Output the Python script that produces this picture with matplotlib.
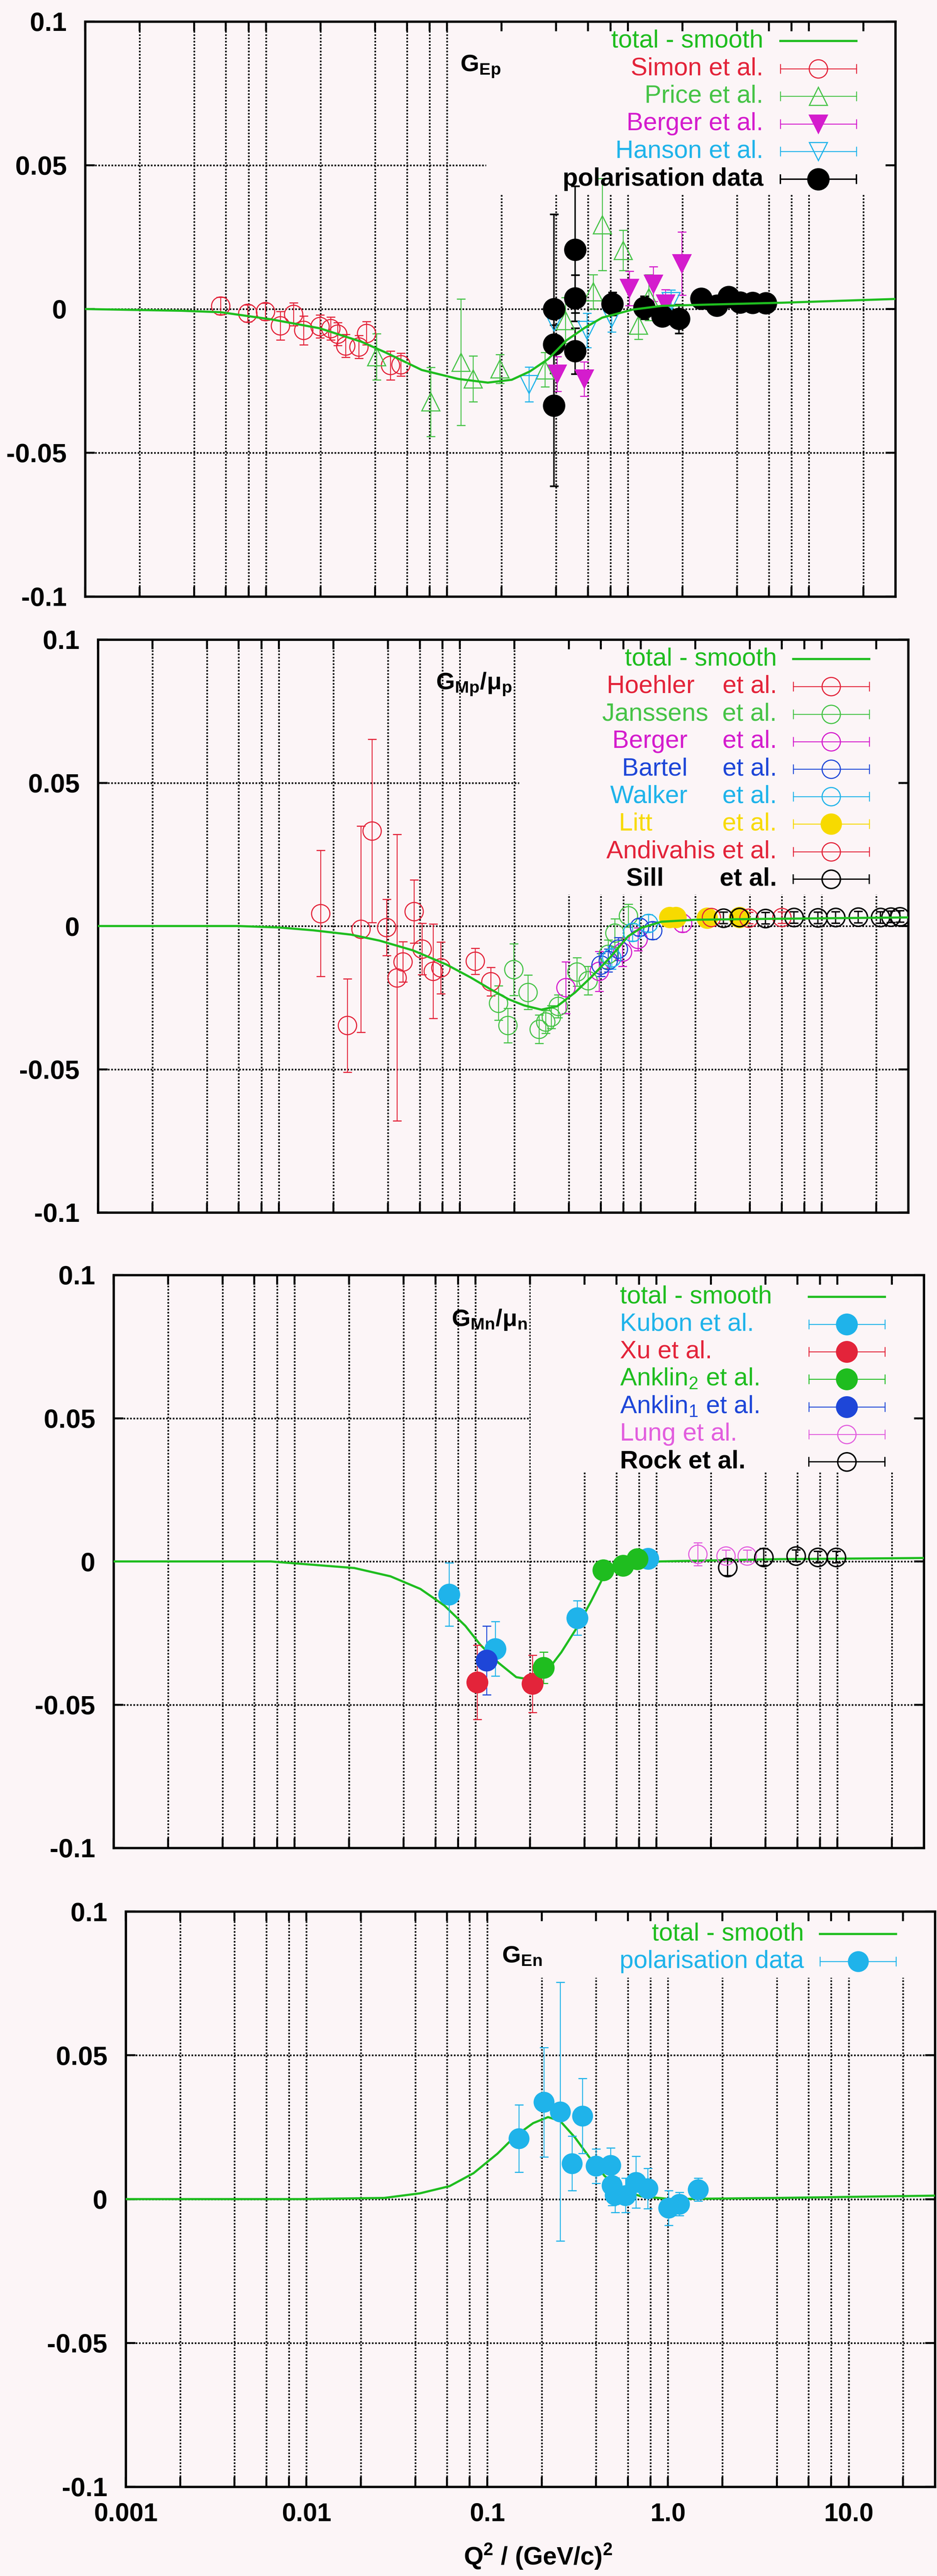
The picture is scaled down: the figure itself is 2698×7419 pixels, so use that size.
import matplotlib
matplotlib.use("Agg")
import matplotlib.pyplot as plt
from matplotlib.ticker import FixedLocator, NullFormatter
from matplotlib.patches import Rectangle

plt.rcParams["font.family"] = ["Liberation Sans", "DejaVu Sans"]
plt.rcParams["mathtext.fontset"] = "custom"
plt.rcParams["mathtext.rm"] = "Liberation Sans"
plt.rcParams["mathtext.it"] = "Liberation Sans:italic"
plt.rcParams["mathtext.bf"] = "Liberation Sans:bold"

# ---------------- data (Q^2 in (GeV/c)^2) ----------------

# panel 1 : G_Ep
ep_fit_q2 = [0.001, 0.0034, 0.0056, 0.0107, 0.0198, 0.0337, 0.0457, 0.0725, 0.115, 0.168,
             0.228, 0.287, 0.362, 0.457, 0.574, 0.72, 1.06, 1.54, 3.0, 7.2, 30]
ep_fit = [0, -0.0006, -0.0011, -0.0036, -0.0067, -0.0114, -0.0151, -0.0212, -0.0243, -0.0256,
          -0.0246, -0.0217, -0.0174, -0.0109, -0.0066, -0.003, -0.0002, 0.0011, 0.0016, 0.0022, 0.0035]

simon_q2 = [0.0056, 0.0079, 0.0099, 0.0120, 0.0142, 0.0161, 0.0198, 0.0227, 0.0248, 0.0275,
            0.0325, 0.0359, 0.0487, 0.0555]
simon = [0.0011, -0.0015, -0.0009, -0.0058, -0.0018, -0.0074, -0.006, -0.0068, -0.0087, -0.0128,
         -0.0132, -0.0084, -0.0196, -0.0193]
simon_err = [0.003, 0.003, 0.003, 0.005, 0.004, 0.005, 0.004, 0.004, 0.004, 0.004,
             0.004, 0.004, 0.005, 0.004]

price_q2 = [0.0408, 0.0813, 0.119, 0.139, 0.196, 0.348, 0.45, 0.641, 0.719, 0.94, 1.14, 1.3]
price = [-0.0166, -0.0323, -0.0185, -0.0243, -0.0208, -0.0211, -0.004, 0.006, 0.0294, 0.0204, -0.0055, 0.004]
price_err = [0.008, 0.012, 0.022, 0.008, 0.005, 0.006, 0.008, 0.006, 0.016, 0.007, 0.005, 0.008]

berger_ep_q2 = [0.405, 0.572, 1.016, 1.38, 1.61, 1.98]
berger_ep = [-0.0226, -0.0243, 0.0072, 0.0087, 0.0018, 0.0158]
berger_ep_err = [0.006, 0.006, 0.006, 0.006, 0.005, 0.011]

hanson_q2 = [0.283, 0.389, 0.594, 0.81, 1.73]
hanson = [-0.0262, -0.0045, -0.0074, -0.003, 0.0027]
hanson_err = [0.006, 0.005, 0.006, 0.005, 0.004]

pol_ep_q2 = [0.39, 0.39, 0.39, 0.51, 0.51, 0.51, 0.82, 1.23, 1.55, 1.91, 2.54, 3.09, 3.59,
             4.17, 4.87, 5.76]
pol_ep = [0.0, -0.0123, -0.0336, 0.0207, 0.0038, -0.0146, 0.0018, 0.0005, -0.0025, -0.0034,
          0.0036, 0.0012, 0.0042, 0.0023, 0.0022, 0.0021]
pol_ep_err = [0.033, 0.01, 0.028, 0.022, 0.008, 0.008, 0.004, 0.004, 0.003, 0.005,
              0.002, 0.002, 0.002, 0.002, 0.002, 0.002]

# panel 2 : G_Mp / mu_p
mp_fit_q2 = [0.001, 0.003, 0.006, 0.01, 0.0155, 0.025, 0.036, 0.055, 0.084, 0.115, 0.148, 0.185,
             0.226, 0.282, 0.345, 0.433, 0.54, 0.68, 0.85, 1.0, 1.3, 2.0, 5.0, 30]
mp_fit = [0, 0, 0, -0.0005, -0.0015, -0.003, -0.0051, -0.0085, -0.0134, -0.018, -0.0221, -0.0255,
          -0.0277, -0.0292, -0.028, -0.0232, -0.0174, -0.0108, -0.0036, -0.0007, 0.0015, 0.0022,
          0.0025, 0.003]

hoehler_q2 = [0.017, 0.0239, 0.0283, 0.0326, 0.0393, 0.045, 0.0484, 0.0557, 0.0617, 0.0711,
              0.0784, 0.1216, 0.148]
hoehler = [0.0044, -0.0347, -0.0011, 0.0332, -0.0005, -0.018, -0.0125, 0.0051, -0.008, -0.0158,
           -0.0146, -0.0123, -0.0194]
hoehler_err = [0.022, 0.0163, 0.036, 0.032, 0.0098, 0.05, 0.007, 0.011, 0.009, 0.0165,
               0.009, 0.0045, 0.005]

janssens_q2 = [0.163, 0.184, 0.198, 0.238, 0.274, 0.298, 0.32, 0.349, 0.443, 0.51, 0.66, 0.718, 0.85]
janssens = [-0.0269, -0.0347, -0.0152, -0.0231, -0.036, -0.0334, -0.0318, -0.028, -0.016, -0.019,
            -0.0098, -0.0024, 0.0036]
janssens_err = [0.006, 0.006, 0.009, 0.006, 0.005, 0.004, 0.004, 0.004, 0.005, 0.005,
                0.005, 0.005, 0.004]

berger_mp_q2 = [0.385, 0.589, 0.79, 0.966, 1.7]
berger_mp = [-0.0215, -0.0158, -0.0091, -0.0046, 0.001]
berger_mp_err = [0.009, 0.007, 0.005, 0.004, 0.003]

bartel_q2 = [0.6, 0.66, 0.75, 0.98, 1.16]
bartel = [-0.0136, -0.012, -0.008, -0.0004, -0.0016]
bartel_err = [0.004, 0.004, 0.004, 0.003, 0.003]

walker_q2 = [0.69, 0.9, 1.1]
walker = [-0.011, -0.0022, 0.001]
walker_err = [0.004, 0.003, 0.003]

litt_q2 = [1.44, 1.56, 2.32, 3.5]
litt = [0.003, 0.003, 0.0028, 0.003]
litt_err = [0.002, 0.002, 0.002, 0.002]

andivahis_q2 = [2.45, 3.95, 6.0]
andivahis = [0.003, 0.0028, 0.003]
andivahis_err = [0.002, 0.002, 0.002]

sill_q2 = [2.86, 3.5, 4.88, 7.0, 9.5, 11.9, 15.9, 21.1, 24.1, 27.0]
sill = [0.0028, 0.003, 0.0027, 0.003, 0.0029, 0.003, 0.0031, 0.003, 0.0032, 0.0033]
sill_err = [0.002, 0.002, 0.002, 0.002, 0.002, 0.002, 0.002, 0.002, 0.002, 0.002]

# panel 3 : G_Mn / mu_n
mn_fit_q2 = [0.001, 0.00738, 0.0214, 0.0339, 0.0496, 0.0673, 0.0879, 0.106, 0.134, 0.168, 0.203,
             0.246, 0.298, 0.36, 0.436, 0.507, 0.614, 0.77, 1.05, 4.8, 30]
mn_fit = [0, 0, -0.0023, -0.0052, -0.0096, -0.0154, -0.0225, -0.029, -0.0354, -0.0404, -0.0413,
          -0.0386, -0.0317, -0.0235, -0.0138, -0.0056, -0.0022, -0.0009, 0.0, 0.0008, 0.0012]

kubon_q2 = [0.0715, 0.1286, 0.365, 0.90]
kubon = [-0.0115, -0.0305, -0.0197, 0.001]
kubon_err = [0.011, 0.0095, 0.006, 0.003]

xu_q2 = [0.102, 0.2065]
xu = [-0.0422, -0.0427]
xu_err = [0.013, 0.01]

anklin2_q2 = [0.238, 0.507, 0.653, 0.784]
anklin2 = [-0.0371, -0.003, -0.0015, 0.0009]
anklin2_err = [0.0055, 0.002, 0.002, 0.002]

anklin1_q2 = [0.115]
anklin1 = [-0.0346]
anklin1_err = [0.012]

lung_q2 = [1.69, 2.42, 3.16]
lung = [0.0025, 0.002, 0.002]
lung_err = [0.004, 0.002, 0.002]

rock_q2 = [2.47, 3.92, 5.9, 7.8, 9.85]
rock = [-0.002, 0.0015, 0.002, 0.0015, 0.0015]
rock_err = [0.003, 0.003, 0.002, 0.002, 0.002]

# panel 4 : G_En
en_fit_q2 = [0.001, 0.00927, 0.0269, 0.0424, 0.0619, 0.084, 0.114, 0.143, 0.1795, 0.217, 0.253,
             0.306, 0.37, 0.447, 0.561, 0.705, 1.03, 4.05, 30]
en_fit = [0, 0, 0.0004, 0.002, 0.0045, 0.009, 0.0158, 0.0219, 0.0264, 0.0285, 0.0272, 0.0214,
          0.0143, 0.008, 0.0032, 0.001, 0.0, 0.0004, 0.0012]

pol_en_q2 = [0.1496, 0.206, 0.253, 0.294, 0.337, 0.399, 0.482, 0.49, 0.51, 0.583, 0.664, 0.773,
             1.007, 1.156, 1.47]
pol_en = [0.0211, 0.0337, 0.0304, 0.0124, 0.0289, 0.0115, 0.0118, 0.0048, 0.0014, 0.0013,
          0.0059, 0.0037, -0.0031, -0.0017, 0.0033]
pol_en_err = [0.0117, 0.019, 0.045, 0.0095, 0.013, 0.006, 0.006, 0.007, 0.006, 0.006,
              0.009, 0.007, 0.006, 0.004, 0.004]

x_major = [0.001, 0.01, 0.1, 1.0, 10.0]
x_major_labels = ["0.001", "0.01", "0.1", "1.0", "10.0"]
y_ticks = [-0.1, -0.05, 0, 0.05, 0.1]
y_tick_labels = ["-0.1", "-0.05", "0", "0.05", "0.1"]

# ---------------- styling ----------------
W, H = 2698, 7419
PAPER = "#fcf5f7"
FIT = "#1fbd1f"
RED = "#e3243a"
LGREEN = "#46c346"
MAGENTA = "#d41ccd"
CYAN = "#1fb3ea"
BLUE = "#1e46d8"
YELLOW = "#f7da00"
PINK = "#e25ede"
BLACK = "black"

OPEN_MS = 38
x_minor = [m * 10.0 ** k for k in range(-3, 2) for m in (2, 4, 6, 8) if m * 10.0 ** k < 30]
DOT = (0, (1.0, 1.0))

fig = plt.figure(figsize=(W / 100, H / 100), dpi=100, facecolor=PAPER)

# panel frames in pixels: left, top, right, bottom
frames = [(245, 62, 2578, 1718), (282, 1842, 2615, 3492),
          (327, 3672, 2660, 5322), (362, 5505, 2692, 7162)]


def make_axes(l, t, r, b, bottom_labels):
    ax = fig.add_axes([l / W, 1 - b / H, (r - l) / W, (b - t) / H])
    ax.set_facecolor(PAPER)
    ax.set_xscale("log")
    ax.set_xlim(0.001, 30)
    ax.set_ylim(-0.1, 0.1)
    ax.xaxis.set_major_locator(FixedLocator(x_major))
    ax.xaxis.set_minor_locator(FixedLocator(x_minor))
    ax.xaxis.set_minor_formatter(NullFormatter())
    ax.yaxis.set_major_locator(FixedLocator(y_ticks))
    ax.set_yticklabels(y_tick_labels, fontsize=55, fontweight="bold")
    if bottom_labels:
        ax.set_xticklabels(x_major_labels, fontsize=53, fontweight="bold")
    else:
        ax.set_xticklabels([])
    ax.tick_params(which="both", direction="in", top=True, right=True,
                   length=20, width=4, color="black")
    ax.tick_params(axis="y", pad=38)
    ax.tick_params(axis="x", pad=32)
    ax.set_axisbelow(True)
    ax.grid(True, which="both", axis="x", color="black", linestyle=DOT, linewidth=3.4)
    ax.grid(True, which="major", axis="y", color="black", linestyle=DOT, linewidth=3.4)
    for s in ax.spines.values():
        s.set_linewidth(4.8)
    return ax


def plot_set(ax, q2, val, err, color, marker, filled, ms=OPEN_MS, lw=1.9):
    ax.errorbar(q2, val, yerr=err, fmt=marker, ms=ms,
                mfc=color if filled else "none", mec=color, mew=lw + 0.4,
                ecolor=color, elinewidth=lw, capsize=9, capthick=lw, zorder=4)


def draw_key(ax, rows, text_x, ha, y_top, dy, box_x, box_y):
    # opaque key area: hides the grid, data still drawn on top of it
    ax.add_patch(Rectangle((box_x, box_y), 0.988 - box_x, 0.983 - box_y,
                           transform=ax.transAxes, facecolor=PAPER,
                           edgecolor="none", zorder=1))
    for i, (label, color, marker, filled, bold, ms, lw) in enumerate(rows):
        y = y_top - i * dy
        ax.text(text_x, y, label, transform=ax.transAxes, ha=ha, va="center",
                fontsize=52, color=color, fontweight="bold" if bold else "normal", zorder=6)
        if marker is None:
            ax.plot([0.858, 0.952], [y, y], color=color, lw=4.5,
                    transform=ax.transAxes, zorder=6)
            continue
        ax.plot([0.858, 0.952], [y, y], color=color, lw=lw, transform=ax.transAxes, zorder=6)
        ax.plot([0.858, 0.952], [y, y], ls="none", marker="|", ms=20, mew=lw,
                color=color, transform=ax.transAxes, zorder=6)
        ax.plot([0.905], [y], ls="none", marker=marker, ms=ms,
                mfc=color if filled else "none", mec=color, mew=lw + 0.4,
                transform=ax.transAxes, zorder=7)


def title(ax, x, s):
    ax.text(x, 0.922, s, transform=ax.transAxes, fontsize=50, ha="left",
            va="center", color="black", zorder=6)


# ---- panel 1 ----
ax1 = make_axes(*frames[0], False)
plot_set(ax1, simon_q2, simon, simon_err, RED, "o", False)
plot_set(ax1, price_q2, price, price_err, LGREEN, "^", False, ms=38)
plot_set(ax1, hanson_q2, hanson, hanson_err, CYAN, "v", False, ms=38)
plot_set(ax1, berger_ep_q2, berger_ep, berger_ep_err, MAGENTA, "v", True, ms=38)
plot_set(ax1, pol_ep_q2, pol_ep, pol_ep_err, BLACK, "o", True, ms=43, lw=3.0)
ax1.plot(ep_fit_q2, ep_fit, color=FIT, lw=4.5, zorder=5)
draw_key(ax1, [("total - smooth", FIT, None, False, False, 0, 0),
               ("Simon et al.", RED, "o", False, False, OPEN_MS, 1.9),
               ("Price et al.", LGREEN, "^", False, False, 38, 1.9),
               ("Berger et al.", MAGENTA, "v", True, False, 38, 1.9),
               ("Hanson et al.", CYAN, "v", False, False, 38, 1.9),
               ("polarisation data", BLACK, "o", True, True, 43, 3.0)],
         0.837, "right", 0.966, 0.048, 0.495, 0.70)
title(ax1, 0.463, r"$\mathbf{G_{Ep}}$")

# ---- panel 2 ----
ax2 = make_axes(*frames[1], False)
plot_set(ax2, hoehler_q2, hoehler, hoehler_err, RED, "o", False)
plot_set(ax2, janssens_q2, janssens, janssens_err, LGREEN, "o", False)
plot_set(ax2, berger_mp_q2, berger_mp, berger_mp_err, MAGENTA, "o", False)
plot_set(ax2, bartel_q2, bartel, bartel_err, BLUE, "o", False)
plot_set(ax2, walker_q2, walker, walker_err, CYAN, "o", False)
plot_set(ax2, litt_q2, litt, litt_err, YELLOW, "o", True, ms=42)
plot_set(ax2, andivahis_q2, andivahis, andivahis_err, RED, "o", False)
plot_set(ax2, sill_q2, sill, sill_err, BLACK, "o", False, lw=2.6)
ax2.plot(mp_fit_q2, mp_fit, color=FIT, lw=4.5, zorder=5)
draw_key(ax2, [("total - smooth", FIT, None, False, False, 0, 0),
               ("Hoehler    et al.", RED, "o", False, False, OPEN_MS, 1.9),
               ("Janssens  et al.", LGREEN, "o", False, False, OPEN_MS, 1.9),
               ("Berger     et al.", MAGENTA, "o", False, False, OPEN_MS, 1.9),
               ("Bartel     et al.", BLUE, "o", False, False, OPEN_MS, 1.9),
               ("Walker     et al.", CYAN, "o", False, False, OPEN_MS, 1.9),
               ("Litt          et al.", YELLOW, "o", True, False, 42, 1.9),
               ("Andivahis et al.", RED, "o", False, False, OPEN_MS, 1.9),
               ("Sill        et al.", BLACK, "o", False, True, OPEN_MS, 2.6)],
         0.838, "right", 0.966, 0.048, 0.52, 0.555)
title(ax2, 0.417, r"$\mathbf{G_{Mp}/\mu_p}$")

# ---- panel 3 ----
ax3 = make_axes(*frames[2], False)
plot_set(ax3, kubon_q2, kubon, kubon_err, CYAN, "o", True, ms=43)
plot_set(ax3, xu_q2, xu, xu_err, RED, "o", True, ms=43)
plot_set(ax3, anklin2_q2, anklin2, anklin2_err, FIT, "o", True, ms=43)
plot_set(ax3, anklin1_q2, anklin1, anklin1_err, BLUE, "o", True, ms=43)
plot_set(ax3, lung_q2, lung, lung_err, PINK, "o", False)
plot_set(ax3, rock_q2, rock, rock_err, BLACK, "o", False, lw=2.6)
ax3.plot(mn_fit_q2, mn_fit, color=FIT, lw=4.5, zorder=3)
draw_key(ax3, [("total - smooth", FIT, None, False, False, 0, 0),
               ("Kubon et al.", CYAN, "o", True, False, 43, 1.9),
               ("Xu et al.", RED, "o", True, False, 43, 1.9),
               (r"Anklin$_2$ et al.", FIT, "o", True, False, 43, 1.9),
               (r"Anklin$_1$ et al.", BLUE, "o", True, False, 43, 1.9),
               ("Lung et al.", PINK, "o", False, False, OPEN_MS, 1.9),
               ("Rock et al.", BLACK, "o", False, True, OPEN_MS, 2.6)],
         0.625, "left", 0.962, 0.048, 0.515, 0.655)
title(ax3, 0.417, r"$\mathbf{G_{Mn}/\mu_n}$")

# ---- panel 4 ----
ax4 = make_axes(*frames[3], True)
plot_set(ax4, pol_en_q2, pol_en, pol_en_err, CYAN, "o", True, ms=41)
ax4.plot(en_fit_q2, en_fit, color=FIT, lw=4.5, zorder=3)
draw_key(ax4, [("total - smooth", FIT, None, False, False, 0, 0),
               ("polarisation data", CYAN, "o", True, False, 41, 1.9)],
         0.838, "right", 0.961, 0.048, 0.45, 0.885)
title(ax4, 0.465, r"$\mathbf{G_{En}}$")

fig.text(1549 / W, 1 - 7363 / H, r"$\mathbf{Q^2\ /\ (GeV/c)^2}$", fontsize=52,
         ha="center", va="center")

for ax in (ax1, ax2, ax3, ax4):
    ax.set_xlim(0.001, 30)
    ax.set_ylim(-0.1, 0.1)

fig.savefig("out.png", dpi=100, facecolor=PAPER)
